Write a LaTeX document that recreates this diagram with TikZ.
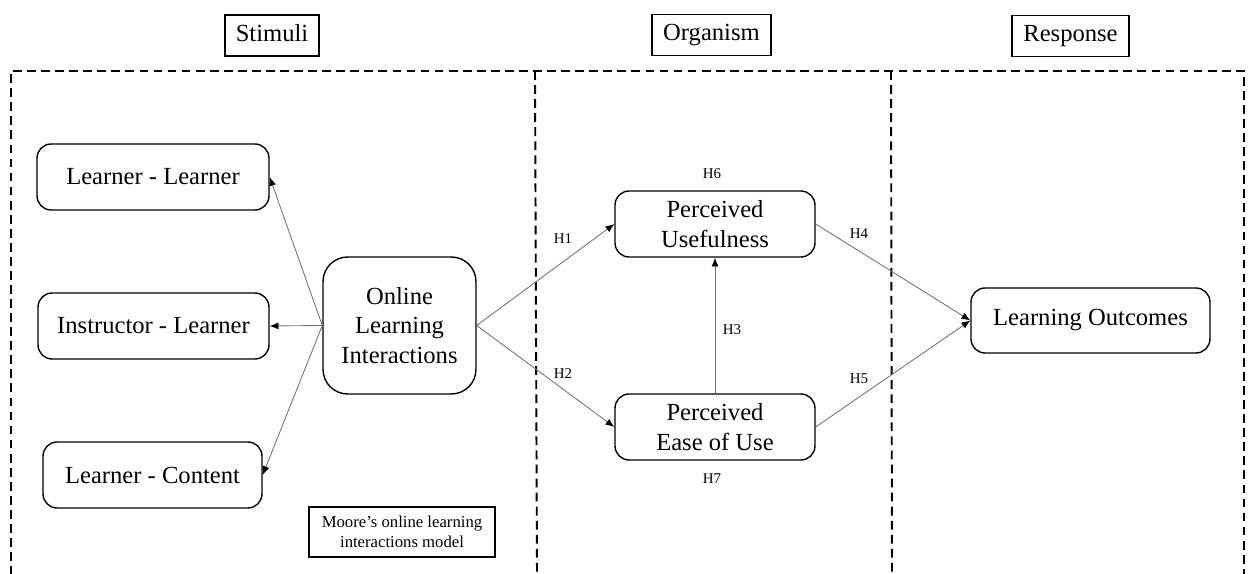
\documentclass[tikz,border=0pt]{standalone}
\usepackage{fontspec}
\setmainfont{Liberation Serif}
\usetikzlibrary{arrows.meta,positioning}

\begin{document}
\begin{tikzpicture}[
    x=0.02cm, y=-0.02cm,
    construct/.style={draw=black, rounded corners=8pt, line width=0.8pt, align=center, inner sep=0pt, minimum height=1.32cm, font=\fontsize{14}{17}\selectfont},
    stage_box/.style={draw=black, line width=0.7pt, inner sep=0pt, minimum height=0.82cm, text height=9.8pt, text depth=3pt, font=\fontsize{14}{17}\selectfont},
    note_box/.style={draw=black, line width=0.7pt, align=center, inner sep=0pt, minimum width=3.72cm, minimum height=1.0cm, font=\fontsize{9.5}{11.4}\selectfont},
    hyp_lbl/.style={font=\fontsize{8.5}{10}\selectfont, inner sep=1pt},
    link/.style={draw=black!55, line width=0.5pt, -{Latex[length=5pt,width=4pt,color=black]}},
    zone/.style={line width=1.1pt, dash pattern=on 5pt off 3pt}
]
    \useasboundingbox (0,0) rectangle (1252,574);

    % Stage headers
    \node[stage_box, minimum width=1.88cm] (stim) at (272, 35.5) {Stimuli};
    \node[stage_box, minimum width=2.38cm] (org) at (711.5, 35) {Organism};
    \node[stage_box, minimum width=2.34cm] (resp) at (1070.5, 36) {Response};

    % Dashed stage zones
    \draw[zone] (11, 575) -- (11, 71) -- (1244, 71) -- (1244, 575);
    \draw[zone] (535, 71) -- (537, 575);
    \draw[zone] (891, 71) -- (892, 575);
    \draw[zone] (11, 575) -- (1244, 575);

    % Stimuli constructs
    \node[construct, minimum width=4.64cm] (ll) at (153, 177) {Learner - Learner};
    \node[construct, minimum width=4.62cm] (il) at (153.5, 326) {Instructor - Learner};
    \node[construct, minimum width=4.38cm] (lc) at (152.5, 475) {Learner - Content};
    \node[construct, rounded corners=14pt, minimum width=3.06cm, minimum height=2.74cm] (oli) at (399.5, 325.5) {Online\\Learning\\Interactions};
    \node[note_box] (moore) at (402, 532) {Moore’s online learning\\interactions model};

    % Organism constructs
    \node[construct, minimum width=4.0cm] (pu) at (715, 224) {Perceived\\Usefulness};
    \node[construct, minimum width=4.0cm] (peou) at (715, 427) {Perceived\\Ease of Use};

    % Response construct
    \node[construct, minimum width=4.78cm, minimum height=1.3cm] (lo) at (1090.5, 320.5) {Learning Outcomes};

    % Moore's interaction types
    \draw[link] (oli.west) -- (ll.east);
    \draw[link] (oli.west) -- (il.east);
    \draw[link] (oli.west) -- (lc.east);

    % Hypothesised paths
    \draw[link] (oli.east) -- (pu.west);
    \draw[link] (oli.east) -- (peou.west);
    \draw[link] (peou.north) -- (pu.south);
    \draw[link] (pu.east) -- (lo.west);
    \draw[link] (peou.east) -- (lo.west);

    \node[hyp_lbl] (h1) at (563, 239) {H1};
    \node[hyp_lbl] (h2) at (563, 374) {H2};
    \node[hyp_lbl] (h3) at (732, 330) {H3};
    \node[hyp_lbl] (h4) at (859, 234) {H4};
    \node[hyp_lbl] (h5) at (859, 379) {H5};
    \node[hyp_lbl] (h6) at (712, 174) {H6};
    \node[hyp_lbl] (h7) at (712, 479) {H7};

\end{tikzpicture}
\end{document}
